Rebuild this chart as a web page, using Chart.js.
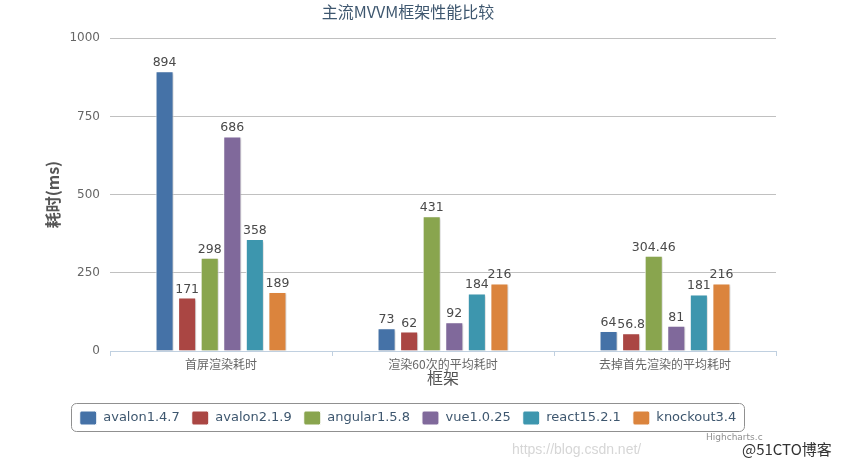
<!DOCTYPE html>
<html>
<head>
<meta charset="utf-8">
<script src="https://cdn.jsdelivr.net/npm/chart.js"></script>
<style>
  html, body { margin: 0; padding: 0; background: #fff; }
  #wrap { width: 841px; height: 464px; }
</style>
</head>
<body>
<div id="wrap"><canvas id="myChart" width="841" height="464"></canvas></div>
<script>
// chart data
const categories = ['首屏渲染耗时', '渲染60次的平均耗时', '去掉首先渲染的平均耗时'];
const frameworks = ['avalon1.4.7', 'avalon2.1.9', 'angular1.5.8', 'vue1.0.25', 'react15.2.1', 'knockout3.4'];
const avalon147 = [894, 73, 64];
const avalon219 = [171, 62, 56.8];
const angular158 = [298, 431, 304.46];
const vue1025 = [686, 92, 81];
const react1521 = [358, 184, 181];
const knockout34 = [189, 216, 216];
const yTicks = [0, 250, 500, 750, 1000];

const colors = ['#4572A7', '#AA4643', '#89A54E', '#80699B', '#3D96AE', '#DB843D'];
const FONT = '"DejaVu Sans", "Noto Sans CJK SC", sans-serif';
const CJK = '"Noto Sans CJK SC", "DejaVu Sans", sans-serif';

const seriesValues = [avalon147, avalon219, angular158, vue1025, react1521, knockout34];

// shadows under the bars, like highcharts does
const barShadow = {
  id: 'barShadow',
  beforeDatasetsDraw(chart) {
    const c = chart.ctx;
    c.save();
    c.shadowColor = 'rgba(0,0,0,0.18)';
    c.shadowOffsetX = 1.5;
    c.shadowOffsetY = 1.5;
    c.shadowBlur = 2;
  },
  afterDatasetsDraw(chart) {
    chart.ctx.restore();
  }
};

// value labels + legend frame + credits
const extras = {
  id: 'extras',
  afterDatasetsDraw(chart) {
    const c = chart.ctx;
    c.save();
    c.font = '12.5px ' + FONT;
    c.fillStyle = '#4a4a4a';
    c.textAlign = 'center';
    c.textBaseline = 'bottom';
    chart.data.datasets.forEach((ds, i) => {
      const meta = chart.getDatasetMeta(i);
      meta.data.forEach((bar, j) => {
        c.fillText(String(ds.data[j]), bar.x, bar.y - 2);
      });
    });
    c.restore();
  },
  afterDraw(chart) {
    const c = chart.ctx;
    const boxes = chart.legend.legendHitBoxes;
    if (boxes && boxes.length) {
      let l = Infinity, r = -Infinity, t = Infinity, b = -Infinity;
      boxes.forEach(h => {
        l = Math.min(l, h.left); r = Math.max(r, h.left + h.width);
        t = Math.min(t, h.top); b = Math.max(b, h.top + h.height);
      });
      c.save();
      c.strokeStyle = '#909090';
      c.lineWidth = 1;
      c.beginPath();
      c.roundRect(Math.round(l) - 8.5, Math.round(t) - 7.5, Math.round(r - l) + 16, Math.round(b - t) + 14, 5);
      c.stroke();
      c.restore();
    }
    c.save();
    c.font = '9px ' + FONT;
    c.fillStyle = '#909090';
    c.textAlign = 'left';
    c.textBaseline = 'middle';
    c.fillText('Highcharts.c', 706, 438);
    c.font = '14px "Liberation Sans", sans-serif';
    c.fillStyle = '#d6d6d6';
    c.fillText('https://blog.csdn.net/', 512, 450);
    c.fillStyle = '#333';
    c.font = '15px ' + CJK;
    c.fillText('@51CTO博客', 742, 449);
    c.restore();
  }
};

const ctx = document.getElementById('myChart').getContext('2d');
new Chart(ctx, {
  type: 'bar',
  data: {
    labels: categories,
    datasets: frameworks.map((name, i) => ({
      label: name,
      data: seriesValues[i],
      backgroundColor: colors[i],
      borderColor: '#ffffff',
      borderWidth: 1,
      categoryPercentage: 0.61,
      barPercentage: 0.8
    }))
  },
  options: {
    responsive: false,
    animation: false,
    layout: { padding: { left: 40, right: 65, top: 0, bottom: 29 } },
    plugins: {
      title: {
        display: true,
        text: '主流MVVM框架性能比较',
        color: '#3E576F',
        font: { family: CJK, size: 16, weight: 'normal' },
        padding: { top: 2, bottom: 17 }
      },
      legend: {
        position: 'bottom',
        labels: {
          color: '#3E576F',
          font: { family: FONT, size: 13 },
          boxWidth: 17,
          boxHeight: 14,
          useBorderRadius: true,
          borderRadius: 2,
          padding: 12
        }
      },
      tooltip: { enabled: false }
    },
    scales: {
      x: {
        grid: { display: true, drawOnChartArea: false, drawTicks: true, tickLength: 5, color: '#C0D0E0', offset: true },
        border: { color: '#C0D0E0' },
        ticks: { color: '#666', font: { family: CJK, size: 12 }, padding: 1 },
        title: { display: true, text: '框架', color: '#555', font: { family: CJK, size: 16 }, padding: { top: 0, bottom: 11 } },
        afterFit(s) { s.height = 48; }
      },
      y: {
        min: 0,
        max: 1000,
        afterBuildTicks(s) { s.ticks = yTicks.map(v => ({ value: v })); },
        grid: { color: '#C0C0C0', drawTicks: false },
        border: { display: false },
        ticks: { color: '#666', font: { family: FONT, size: 12 }, padding: 10, callback: v => String(v) },
        title: { display: true, text: '耗时(ms)', color: '#555', font: { family: CJK, size: 16, weight: 'bold' }, padding: { top: 3, bottom: 0 } },
        afterFit(s) { s.width = 70; }
      }
    }
  },
  plugins: [barShadow, extras]
});
</script>
</body>
</html>
